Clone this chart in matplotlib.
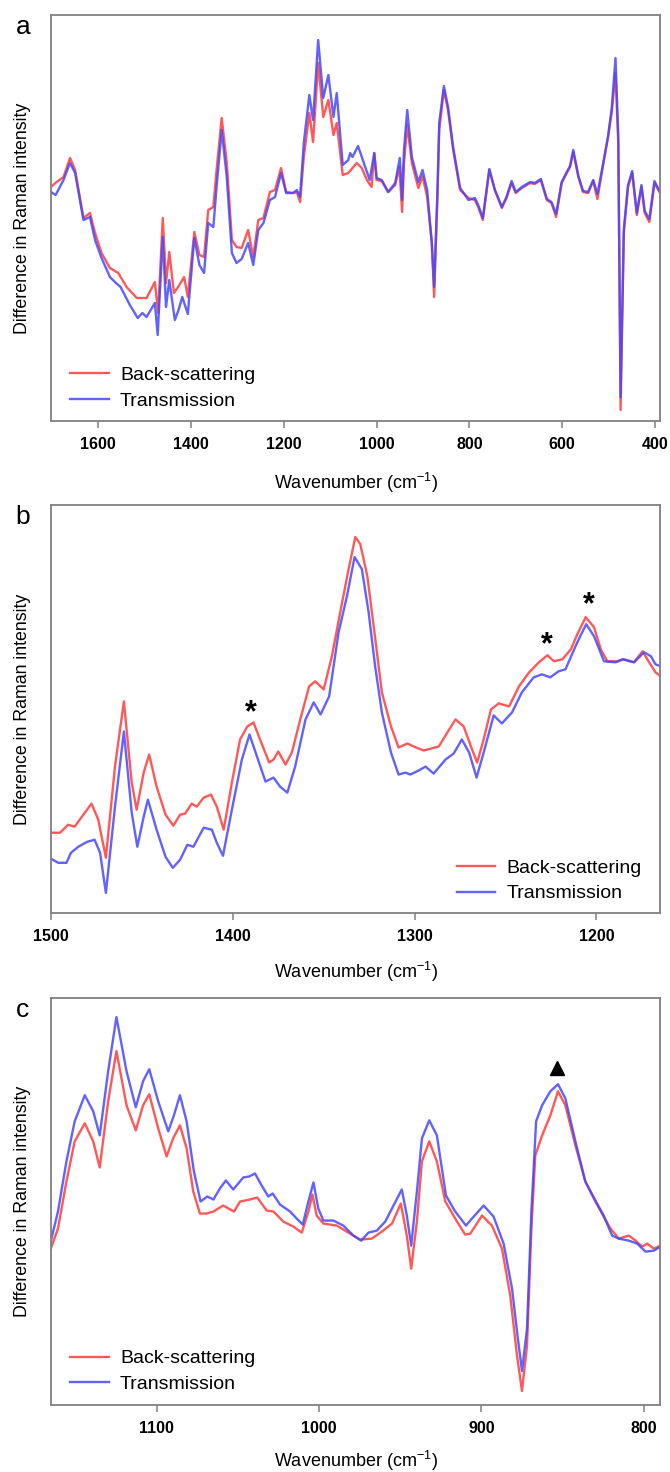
import matplotlib
matplotlib.use("Agg")
import matplotlib.pyplot as plt

plt.rcParams['font.family'] = ['Liberation Sans', 'DejaVu Sans']
plt.rcParams['mathtext.fontset'] = 'custom'
plt.rcParams['mathtext.rm'] = 'Liberation Sans'
plt.rcParams['mathtext.it'] = 'Liberation Sans:italic'

# ---- panel a: full range (intensity in arbitrary units) ----
a_wn_back = [1702, 1690, 1675, 1661, 1650, 1632, 1618, 1607, 1593, 1575, 1557, 1539, 1517, 1496,
             1478, 1471, 1461, 1454, 1447, 1437, 1428, 1415, 1407, 1393, 1382, 1372, 1363, 1352,
             1345, 1334, 1323, 1312, 1302, 1291, 1277, 1266, 1255, 1244, 1230, 1219, 1206, 1195,
             1180, 1172, 1165, 1157, 1145, 1137, 1126, 1115, 1104, 1093, 1086, 1073, 1061, 1052,
             1043, 1032, 1021, 1011, 1005, 1000, 989, 975, 960, 951, 945, 941, 934, 924, 910, 901,
             891, 881, 876, 869, 865, 855, 846, 835, 820, 802, 788, 781, 771, 757, 745, 730, 720,
             709, 700, 687, 669, 659, 646, 633, 623, 613, 601, 590, 583, 576, 565, 555, 544, 533,
             524, 511, 501, 493, 485, 479, 474, 467, 458, 449, 439, 429, 422, 412, 401, 389]
a_back = [234, 239, 244, 263, 251, 203, 208, 188, 168, 153, 148, 134, 123, 123,
          139, 108, 203, 138, 169, 128, 134, 144, 124, 189, 166, 164, 211, 214,
          251, 303, 258, 181, 174, 173, 191, 164, 201, 203, 229, 231, 253, 229,
          228, 229, 219, 264, 308, 279, 358, 304, 321, 286, 298, 246, 248, 253,
          258, 253, 241, 234, 268, 241, 240, 229, 236, 254, 209, 258, 296, 258, 233, 245,
          224, 178, 124, 221, 291, 331, 311, 271, 231, 223, 221, 214, 201, 251, 231, 213, 223,
          238, 228, 233, 238, 237, 241, 221, 218, 204, 238, 248, 254, 269, 244, 229, 228, 240,
          222, 258, 284, 309, 348, 278, 11, 188, 234, 248, 206, 234, 208, 199, 238, 228]

a_wn_trans = [1702, 1692, 1675, 1661, 1650, 1632, 1618, 1607, 1593, 1575, 1562, 1552, 1532, 1515,
              1505, 1496, 1478, 1472, 1461, 1454, 1447, 1435, 1427, 1419, 1407, 1393, 1382, 1372,
              1363, 1352, 1345, 1334, 1323, 1312, 1302, 1291, 1277, 1266, 1255, 1244, 1230, 1219,
              1206, 1195, 1180, 1172, 1165, 1157, 1145, 1137, 1126, 1115, 1104, 1093, 1086, 1073,
              1061, 1057, 1052, 1040, 1029, 1015, 1005, 1000, 989, 975, 960, 950, 945, 941, 934,
              924, 910, 901, 891, 881, 876, 869, 865, 855, 846, 835, 820, 802, 788, 781, 771, 757,
              745, 730, 720, 709, 700, 687, 669, 659, 646, 633, 623, 613, 601, 590, 583, 576, 565,
              555, 544, 533, 524, 511, 501, 493, 485, 479, 474, 467, 458, 449, 439, 429, 422, 412,
              401, 389]
a_trans = [229, 226, 241, 258, 248, 201, 204, 181, 163, 144, 138, 134, 116, 103,
           108, 104, 118, 86, 184, 114, 141, 101, 111, 124, 107, 183, 156, 148,
           198, 194, 234, 291, 244, 168, 158, 162, 178, 156, 191, 198, 221, 224,
           248, 228, 228, 231, 224, 278, 326, 301, 381, 323, 346, 304, 328, 256,
           261, 268, 264, 275, 260, 241, 268, 243, 241, 229, 238, 263, 221, 271, 311,
           264, 239, 251, 231, 178, 134, 228, 298, 335, 314, 274, 233, 221, 223, 216, 203, 252,
           231, 214, 224, 240, 229, 234, 239, 238, 242, 222, 219, 207, 239, 249, 255, 271, 245,
           230, 229, 241, 227, 259, 285, 313, 363, 285, 24, 192, 236, 250, 208, 236, 210, 202,
           240, 229]

# ---- panel b: 1500-1165 cm-1 ----
b_wn_back = [1501, 1495, 1490.6, 1487, 1483, 1477.7, 1474, 1469.8, 1464.8, 1459.9, 1455.6, 1452.9,
             1449, 1446, 1441.9, 1437, 1432.7, 1429, 1426.3, 1422.6, 1419.8, 1416, 1412, 1408.8,
             1405, 1400.5, 1396, 1392, 1388.6, 1385, 1380, 1377.6, 1375, 1371, 1367.5, 1362.9,
             1358, 1354.7, 1350, 1345.5, 1340.9, 1336.3, 1332.6, 1329.9, 1326, 1322.5, 1318,
             1313, 1308.8, 1304, 1300.5, 1295, 1286.7, 1282, 1277.5, 1273, 1269, 1265.6, 1262,
             1258, 1253.7, 1248, 1242.6, 1237, 1231.6, 1227, 1223.3, 1218.7, 1214, 1210.5,
             1205.9, 1201.3, 1197.6, 1194, 1188.4, 1184.8, 1179.3, 1174.6, 1171, 1167.5, 1164.6]
b_back = [80, 80, 88, 86, 96, 109, 93, 55, 146, 211, 130, 103,
          140, 158, 126, 98, 87, 98, 99, 109, 106, 115, 118, 106,
          83, 130, 173, 186, 190, 173, 150, 153, 161, 148, 160, 193,
          226, 231, 223, 256, 300, 343, 375, 368, 336, 286, 220,
          186, 165, 169, 166, 162, 166, 180, 193, 186, 166, 150, 173,
          203, 209, 206, 226, 240, 250, 257, 251, 253, 263, 278,
          295, 285, 263, 251, 251, 253, 250, 261, 250, 240, 236]

b_wn_trans = [1501, 1496, 1491.5, 1489, 1485, 1480, 1476, 1473, 1469.8, 1464.8, 1459.9, 1455.6,
              1452.5, 1449, 1446.7, 1441.9, 1437, 1433, 1429, 1425, 1421.7, 1416, 1411.5, 1408.8,
              1405.4, 1400.5, 1395, 1390.8, 1386.7, 1382, 1377.6, 1374, 1370, 1365.7, 1360,
              1355.5, 1351.7, 1347, 1341.8, 1337.2, 1333, 1329, 1325.3, 1321.7, 1318, 1313,
              1308.8, 1305, 1302.4, 1297.8, 1294, 1289.5, 1283, 1278.5, 1274, 1270, 1265.9, 1262,
              1256.5, 1252, 1246.4, 1241, 1234.5, 1230, 1225.4, 1220.8, 1217, 1210.5, 1205.6,
              1201.3, 1195.8, 1189.4, 1185.7, 1179.3, 1173.7, 1170, 1167.5, 1164.6]
b_trans = [55, 50, 50, 60, 66, 71, 73, 60, 20, 106, 181, 100,
           66, 96, 113, 83, 56, 45, 53, 68, 66, 85, 83, 70,
           57, 103, 153, 178, 156, 131, 135, 126, 120, 146, 193,
           210, 198, 216, 280, 316, 355, 343, 300, 246, 200, 160,
           138, 140, 138, 142, 146, 139, 153, 159, 173, 160, 135, 160,
           197, 189, 200, 220, 235, 238, 235, 241, 243, 270, 288,
           276, 251, 250, 253, 250, 260, 256, 248, 246]

# ---- panel c: 1165-790 cm-1 ----
c_wn_back = [1165.8, 1160.7, 1155.5, 1150.4, 1144.2, 1139, 1135, 1129.8, 1124.7, 1118.5, 1112.8,
             1108.3, 1104.5, 1099, 1093.8, 1089.8, 1085.6, 1081.5, 1077.4, 1073.3, 1069.2, 1065,
             1059, 1052.3, 1048.6, 1042.5, 1038, 1032.2, 1028, 1022, 1015.8, 1010.6, 1006.5, 1004,
             1001.4, 997.3, 989, 982.9, 974.7, 967.5, 961.3, 955, 949.6, 945.9, 943.2, 939.7,
             936.6, 932.1, 927.4, 922.2, 916.1, 910, 906.8, 899.6, 893.5, 887.3, 882.2, 878.1,
             875, 871.9, 869.2, 866.8, 862.6, 857.5, 852.8, 848.3, 842.1, 836, 829.8, 824.7,
             820.5, 815.4, 809.2, 805.1, 801, 797.9, 793.8, 789.7]
c_back = [153, 176, 223, 263, 281, 263, 237, 303, 353, 299, 274,
          299, 310, 276, 248, 266, 279, 256, 213, 191, 191, 193,
          199, 193, 203, 205, 207, 194, 193, 183, 178, 172, 193, 210,
          189, 181, 179, 173, 165, 166, 173, 181, 201, 169, 136, 183,
          243, 263, 243, 203, 186, 170, 171, 189, 179, 156, 109, 50,
          14, 59, 176, 249, 269, 289, 313, 299, 259, 223, 203, 188,
          176, 166, 169, 164, 158, 161, 156, 159]

c_wn_trans = [1165.8, 1160.7, 1155.5, 1150.4, 1144.2, 1139, 1135, 1129.8, 1124.7, 1118.5, 1112.8,
              1108.3, 1104.5, 1099, 1092.8, 1089.3, 1085.6, 1081.5, 1077, 1072.9, 1068.8, 1065,
              1061, 1057.3, 1052.8, 1046.6, 1042.9, 1039.4, 1035.3, 1031.2, 1028.5, 1024, 1017.8,
              1013.7, 1010, 1006.5, 1003.4, 1000.4, 997.3, 991.1, 985, 978.8, 974, 969.5, 964.4,
              959.2, 954.1, 949, 945.9, 943.2, 939.7, 936.6, 932.1, 927.4, 921.8, 916.1, 909.5,
              905.8, 898.6, 892.5, 886.3, 881.1, 877.5, 875, 871.9, 869.2, 866.3, 862.6, 857.5,
              852.8, 848.3, 842.1, 836, 829.8, 824.7, 819.5, 815.4, 809.2, 804.1, 798.9, 793.8,
              789.7]
c_trans = [159, 193, 243, 283, 309, 293, 269, 333, 387, 333, 297,
           323, 335, 303, 273, 289, 309, 283, 233, 203, 208, 205,
           216, 224, 215, 227, 228, 231, 219, 208, 211, 200, 193,
           186, 180, 203, 222, 196, 184, 184, 179, 169, 164, 172, 174,
           183, 199, 215, 189, 159, 213, 266, 284, 269, 209, 193, 179,
           186, 199, 188, 161, 116, 66, 34, 76, 193, 283, 299, 313,
           320, 306, 263, 223, 204, 189, 169, 166, 164, 161, 153, 154,
           158]

# annotation positions (wavenumber, intensity)
b_stars_wn = [1390, 1227, 1204]
b_stars_y = [203, 270, 310]
c_tri_wn = [853.4]
c_tri_y = [336]

RED = '#ff4646'
BLUE = '#4646ff'
FRAME = '#808080'


def draw_pair(ax, wn_back, back, wn_trans, trans):
    ax.plot(wn_back, back, color=RED, lw=1.7, alpha=0.9, solid_joinstyle='round',
            label='Back-scattering')
    ax.plot(wn_trans, trans, color=BLUE, lw=1.7, alpha=0.85, solid_joinstyle='round',
            label='Transmission')


def style_panel(ax, xlim, ylim, ticks, letter, legend_anchor, xlabel_y):
    ax.set_xlim(*xlim)
    ax.set_ylim(*ylim)
    ax.set_xticks(ticks)
    ax.set_yticks([])
    for s in ax.spines.values():
        s.set_color(FRAME)
        s.set_linewidth(1.3)
    ax.tick_params(axis='x', direction='out', length=5, width=1.1, color=FRAME,
                   labelsize=11.5, pad=6.5)
    for lab in ax.get_xticklabels():
        lab.set_fontweight('bold')
    ax.set_xlabel('Wavenumber (cm$^{-1}$)', fontsize=13, va='center')
    ax.xaxis.set_label_coords(0.5, xlabel_y)
    ax.set_ylabel('Difference in Raman intensity', fontsize=12.8)
    ax.yaxis.set_label_coords(-0.033, 0.5)
    ax.legend(loc='upper left', bbox_to_anchor=legend_anchor, frameon=False, fontsize=14,
              handlelength=2.0, handletextpad=0.55, labelspacing=0.42, borderpad=0,
              borderaxespad=0)
    ax.text(-0.058, 1.0, letter, transform=ax.transAxes, fontsize=19, va='top', ha='left')


fig = plt.figure(figsize=(6.7, 14.72), dpi=100)

ax_a = fig.add_axes([0.0761, 0.714, 0.909, 0.2758])
draw_pair(ax_a, a_wn_back, a_back, a_wn_trans, a_trans)
style_panel(ax_a, (1702, 389), (0, 406), [1600, 1400, 1200, 1000, 800, 600, 400], 'a',
            (0.032, 0.135), -0.153)

ax_b = fig.add_axes([0.0761, 0.3798, 0.909, 0.2772])
draw_pair(ax_b, b_wn_back, b_back, b_wn_trans, b_trans)
for wn, yv in zip(b_stars_wn, b_stars_y):
    ax_b.text(wn, yv, '*', fontsize=22, fontweight='bold', ha='center', va='center_baseline')
style_panel(ax_b, (1500, 1165), (0, 407), [1500, 1400, 1300, 1200], 'b', (0.666, 0.132),
            -0.144)

ax_c = fig.add_axes([0.0761, 0.0455, 0.909, 0.2765])
draw_pair(ax_c, c_wn_back, c_back, c_wn_trans, c_trans)
ax_c.plot(c_tri_wn, c_tri_y, marker='^', color='black', markersize=10, linestyle='none')
style_panel(ax_c, (1165, 790), (0, 406), [1100, 1000, 900, 800], 'c', (0.032, 0.1355),
            -0.137)

fig.savefig('out.png', dpi=100)
